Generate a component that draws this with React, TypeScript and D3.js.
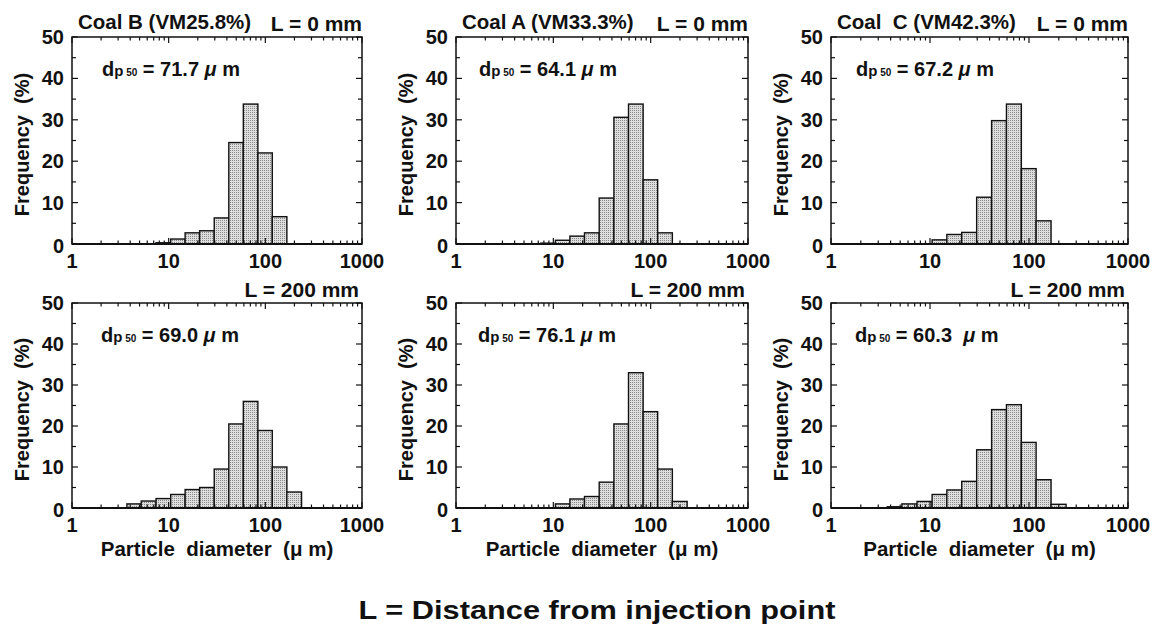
import React, { useEffect, useRef } from "react";
import * as d3 from "d3";

// size class edges (μm), roughly a √2 series
const binEdges = [3.7, 5.2, 7.4, 10.5, 14.8, 20.9, 29.6, 41.9, 59.2, 83.7, 118, 167, 237];

// frequency (%) in each size class
const coalB_L0 = [0, 0, 0.3, 1.2, 2.7, 3.2, 6.3, 24.5, 33.8, 22.0, 6.6, 0];
const coalA_L0 = [0, 0, 0.2, 0.9, 1.9, 2.7, 11.1, 30.6, 33.8, 15.5, 2.7, 0];
const coalC_L0 = [0, 0, 0, 1.0, 2.3, 2.8, 11.3, 29.8, 33.8, 18.2, 5.6, 0];
const coalB_L200 = [1.0, 1.7, 2.3, 3.3, 4.5, 5.0, 9.5, 20.5, 26.0, 18.9, 10.0, 3.9];
const coalA_L200 = [0, 0, 0, 1.0, 2.2, 2.8, 6.3, 20.5, 33.0, 23.5, 9.5, 1.6];
const coalC_L200 = [0.3, 1.0, 1.6, 3.3, 4.4, 6.5, 14.2, 24.0, 25.2, 16.0, 6.9, 0.9];

const coalNames = ["Coal B (VM25.8%)", "Coal A (VM33.3%)", "Coal  C (VM42.3%)"];
const distanceLabels = ["L = 0 mm", "L = 200 mm"];
const dp50Values = ["71.7", "64.1", "67.2", "69.0", "76.1", "60.3 "];

const xTickValues = [1, 10, 100, 1000];
const yTickValues = [0, 10, 20, 30, 40, 50];

const panelValues = [coalB_L0, coalA_L0, coalC_L0, coalB_L200, coalA_L200, coalC_L200];

// layout
const W = 1162;
const H = 624;
const colLeft = [72, 456, 831];
const colRight = [362, 748, 1128];
const rowTop = [37, 303];
const rowBottom = [244, 508];
const dpOffset = [30, 23, 25, 29, 22, 24];
const FONT = "'Liberation Sans', Arial, Helvetica, sans-serif";
const INK = "#111";

const App: React.FC = () => {
  const ref = useRef<SVGSVGElement | null>(null);

  useEffect(() => {
    if (!ref.current) return;
    const svg = d3.select(ref.current);
    svg.selectAll("*").remove();

    // dotted grey fill like the printed bars
    const pat = svg
      .append("defs")
      .append("pattern")
      .attr("id", "stipple")
      .attr("patternUnits", "userSpaceOnUse")
      .attr("width", 2)
      .attr("height", 2);
    pat.append("rect").attr("width", 2).attr("height", 2).attr("fill", "#dedede");
    pat.append("rect").attr("width", 1).attr("height", 1).attr("fill", "#8a8a8a");

    panelValues.forEach((values, idx) => {
      const row = Math.floor(idx / 3);
      const col = idx % 3;
      const left = colLeft[col];
      const right = colRight[col];
      const top = rowTop[row];
      const bottom = rowBottom[row];

      const x = d3.scaleLog().domain([1, 1000]).range([left, right]);
      const y = d3.scaleLinear().domain([0, 50]).range([bottom, top]);
      const g = svg.append("g").attr("font-family", FONT).attr("font-weight", "bold").attr("fill", INK);

      const bins = values
        .map((v, i) => ({ x0: binEdges[i], x1: binEdges[i + 1], v }))
        .filter((d) => d.v > 0);

      g.selectAll("rect.bar")
        .data(bins)
        .enter()
        .append("rect")
        .attr("class", "bar")
        .attr("x", (d) => x(d.x0))
        .attr("width", (d) => x(d.x1) - x(d.x0))
        .attr("y", (d) => y(d.v))
        .attr("height", (d) => y(0) - y(d.v))
        .attr("fill", "url(#stipple)")
        .attr("stroke", INK)
        .attr("stroke-width", 1.4);

      // frame
      g.append("rect")
        .attr("x", left)
        .attr("y", top)
        .attr("width", right - left)
        .attr("height", bottom - top)
        .attr("fill", "none")
        .attr("stroke", INK)
        .attr("stroke-width", 1.5);
      g.append("line")
        .attr("x1", left)
        .attr("x2", right)
        .attr("y1", bottom)
        .attr("y2", bottom)
        .attr("stroke", INK)
        .attr("stroke-width", 2.2);

      // log ticks, inward on bottom and top
      x.ticks().forEach((t) => {
        const lg = Math.log10(t);
        const major = Math.abs(lg - Math.round(lg)) < 1e-9;
        const len = major ? 6 : 3.5;
        [
          [bottom, bottom - len],
          [top, top + len],
        ].forEach(([y1, y2]) => {
          g.append("line")
            .attr("x1", x(t))
            .attr("x2", x(t))
            .attr("y1", y1)
            .attr("y2", y2)
            .attr("stroke", INK)
            .attr("stroke-width", 1.2);
        });
      });

      // linear ticks every 5, inward on left and right
      y.ticks(10).forEach((t) => {
        const len = t % 10 === 0 ? 6 : 4;
        [
          [left, left + len],
          [right, right - len],
        ].forEach(([x1, x2]) => {
          g.append("line")
            .attr("x1", x1)
            .attr("x2", x2)
            .attr("y1", y(t))
            .attr("y2", y(t))
            .attr("stroke", INK)
            .attr("stroke-width", 1.2);
        });
      });

      g.selectAll("text.xtick")
        .data(xTickValues)
        .enter()
        .append("text")
        .attr("class", "xtick")
        .attr("x", (d) => x(d))
        .attr("y", bottom + 24)
        .attr("text-anchor", "middle")
        .style("font-size", "20px")
        .text((d) => String(d));

      g.selectAll("text.ytick")
        .data(yTickValues)
        .enter()
        .append("text")
        .attr("class", "ytick")
        .attr("x", left - 8)
        .attr("y", (d) => y(d) + (d === 0 ? 9 : 7))
        .attr("text-anchor", "end")
        .style("font-size", "20px")
        .text((d) => String(d));

      // y axis title
      g.append("text")
        .attr("transform", `translate(${left - 50},${(top + bottom) / 2 + 4}) rotate(-90)`)
        .attr("text-anchor", "middle")
        .attr("dominant-baseline", "central")
        .style("font-size", "20px")
        .style("white-space", "pre")
        .text("Frequency  (%)");

      // titles above the frame
      if (row === 0) {
        g.append("text")
          .attr("x", left + 6)
          .attr("y", top - 8)
          .style("font-size", "20.5px")
          .style("white-space", "pre")
          .text(coalNames[col]);
      }
      g.append("text")
        .attr("x", right - (row === 0 ? 0 : 3))
        .attr("y", top - 6)
        .attr("text-anchor", "end")
        .style("font-size", "21px")
        .text(distanceLabels[row]);

      // d_p50 annotation
      const dp = g
        .append("text")
        .attr("x", left + dpOffset[idx])
        .attr("y", top + 39)
        .style("white-space", "pre");
      dp.append("tspan").style("font-size", "20px").text("d");
      dp.append("tspan").style("font-size", "15px").text("p");
      dp.append("tspan").style("font-size", "10px").text(" 50");
      dp.append("tspan").style("font-size", "20px").text(` = ${dp50Values[idx]} `);
      dp.append("tspan").style("font-size", "20px").style("font-style", "italic").text("μ");
      dp.append("tspan").style("font-size", "20px").text(" m");

      // x axis title on the lower row
      if (row === 1) {
        g.append("text")
          .attr("x", (left + right) / 2)
          .attr("y", bottom + 48)
          .attr("text-anchor", "middle")
          .style("font-size", "20.5px")
          .style("white-space", "pre")
          .text("Particle  diameter  (μ m)");
      }
    });

    // caption, printed wide in the source
    svg
      .append("text")
      .attr("transform", "translate(597,619) scale(1.23,1)")
      .attr("text-anchor", "middle")
      .attr("font-family", FONT)
      .attr("font-weight", "bold")
      .style("font-size", "25px")
      .attr("fill", INK)
      .text("L = Distance from injection point");

    return () => {
      if (ref.current) d3.select(ref.current).selectAll("*").remove();
    };
  }, []);

  return (
    <svg
      ref={ref}
      width={W}
      height={H}
      style={{ position: "absolute", left: 0, top: 0, background: "#fff" }}
    />
  );
};

export default App;
